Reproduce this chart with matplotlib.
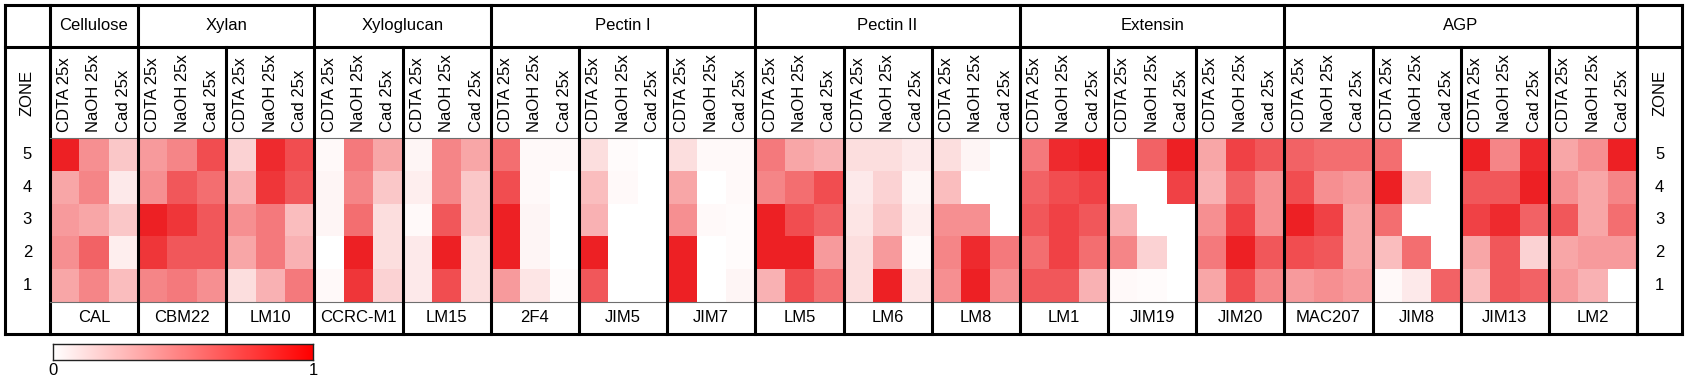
#!/usr/bin/env python3
"""Antibody labelling heatmap: zones 5-1 x (antibody, extraction)."""

import matplotlib.pyplot as plt
import numpy as np
from matplotlib.colors import LinearSegmentedColormap

plt.rcParams["font.family"] = ["Liberation Sans", "DejaVu Sans"]

zones = [5, 4, 3, 2, 1]
extractions = ["CDTA 25x", "NaOH 25x", "Cad 25x"]
groups = ["Cellulose", "Xylan", "Xyloglucan", "Pectin I", "Pectin II",
          "Extensin", "AGP"]
group_antibodies = [["CAL"], ["CBM22", "LM10"], ["CCRC-M1", "LM15"],
                    ["2F4", "JIM5", "JIM7"], ["LM5", "LM6", "LM8"],
                    ["LM1", "JIM19", "JIM20"],
                    ["MAC207", "JIM8", "JIM13", "LM2"]]

# rows = zone 5..1, columns = CDTA, NaOH, Cad (relative signal 0-1)
CAL = [[1.00, 0.50, 0.25], [0.40, 0.55, 0.10], [0.45, 0.40, 0.25],
       [0.50, 0.70, 0.08], [0.40, 0.55, 0.30]]
CBM22 = [[0.45, 0.55, 0.80], [0.50, 0.75, 0.65], [1.00, 0.90, 0.75],
         [0.90, 0.75, 0.75], [0.55, 0.60, 0.50]]
LM10 = [[0.20, 0.95, 0.80], [0.35, 0.90, 0.75], [0.50, 0.60, 0.30],
        [0.40, 0.60, 0.35], [0.15, 0.35, 0.60]]
CCRC_M1 = [[0.03, 0.60, 0.40], [0.05, 0.55, 0.25], [0.05, 0.65, 0.15],
           [0.00, 1.00, 0.15], [0.03, 0.90, 0.20]]
LM15 = [[0.05, 0.55, 0.40], [0.08, 0.55, 0.25], [0.03, 0.75, 0.25],
        [0.10, 1.00, 0.15], [0.10, 0.80, 0.15]]
F2F4 = [[0.65, 0.03, 0.03], [0.80, 0.03, 0.00], [1.00, 0.05, 0.00],
        [1.00, 0.05, 0.00], [0.45, 0.12, 0.02]]
JIM5 = [[0.15, 0.02, 0.00], [0.30, 0.03, 0.00], [0.35, 0.00, 0.00],
        [1.00, 0.00, 0.00], [0.75, 0.00, 0.00]]
JIM7 = [[0.15, 0.03, 0.03], [0.40, 0.00, 0.03], [0.50, 0.03, 0.02],
        [1.00, 0.00, 0.02], [1.00, 0.00, 0.05]]
LM5 = [[0.60, 0.40, 0.35], [0.55, 0.65, 0.80], [1.00, 0.80, 0.70],
       [1.00, 1.00, 0.45], [0.35, 0.80, 0.65]]
LM6 = [[0.15, 0.15, 0.10], [0.10, 0.20, 0.05], [0.12, 0.25, 0.08],
       [0.15, 0.45, 0.03], [0.15, 1.00, 0.12]]
LM8 = [[0.15, 0.05, 0.00], [0.30, 0.00, 0.00], [0.50, 0.50, 0.00],
       [0.55, 0.95, 0.60], [0.50, 1.00, 0.50]]
LM1 = [[0.60, 0.95, 1.00], [0.70, 0.80, 0.85], [0.75, 0.85, 0.75],
       [0.65, 0.85, 0.65], [0.75, 0.75, 0.35]]
JIM19 = [[0.00, 0.70, 1.00], [0.00, 0.00, 0.85], [0.35, 0.00, 0.00],
         [0.55, 0.20, 0.00], [0.03, 0.02, 0.00]]
JIM20 = [[0.40, 0.85, 0.75], [0.35, 0.70, 0.50], [0.50, 0.85, 0.50],
         [0.60, 1.00, 0.75], [0.40, 0.80, 0.55]]
MAC207 = [[0.70, 0.65, 0.65], [0.80, 0.50, 0.45], [1.00, 0.85, 0.40],
          [0.80, 0.75, 0.40], [0.45, 0.50, 0.45]]
JIM8 = [[0.65, 0.00, 0.00], [1.00, 0.25, 0.00], [0.65, 0.00, 0.00],
        [0.30, 0.65, 0.00], [0.03, 0.10, 0.70]]
JIM13 = [[1.00, 0.55, 0.95], [0.75, 0.75, 1.00], [0.85, 0.95, 0.70],
         [0.40, 0.75, 0.20], [0.30, 0.75, 0.70]]
LM2 = [[0.40, 0.50, 1.00], [0.50, 0.40, 0.55], [0.75, 0.40, 0.65],
       [0.40, 0.45, 0.45], [0.45, 0.35, 0.00]]

values = {"CAL": CAL, "CBM22": CBM22, "LM10": LM10, "CCRC-M1": CCRC_M1,
          "LM15": LM15, "2F4": F2F4, "JIM5": JIM5, "JIM7": JIM7,
          "LM5": LM5, "LM6": LM6, "LM8": LM8, "LM1": LM1, "JIM19": JIM19,
          "JIM20": JIM20, "MAC207": MAC207, "JIM8": JIM8, "JIM13": JIM13,
          "LM2": LM2}

CELL_CMAP = LinearSegmentedColormap.from_list("cell", ["#ffffff", "#ed2024"])
BAR_CMAP = LinearSegmentedColormap.from_list("bar", ["#ffffff", "#ff0000"])
THICK = 2.2
THIN = 0.8
FS = 12

antibodies = [ab for g in group_antibodies for ab in g]
mat = np.hstack([np.array(values[ab]) for ab in antibodies])
ncol = mat.shape[1]
nx = len(extractions)

# vertical layout (units = one heatmap row), top = 0
y0 = 0.0
y1 = y0 + 1.275          # group header
y2 = y1 + 2.80           # extraction labels
y3 = y2 + len(zones)     # heatmap
y4 = y3 + 0.99           # antibody names
ZW = 1.525               # width of the ZONE columns

W, H = 1687, 381
fig = plt.figure(figsize=(W / 100, H / 100), dpi=100)
ax = fig.add_axes([5 / W, (H - 334) / H, 1677 / W, 329 / H])
ax.set_xlim(-ZW, ncol + ZW)
ax.set_ylim(y4, y0)
ax.axis("off")

ax.pcolormesh(np.arange(ncol + 1), y2 + np.arange(len(zones) + 1), mat,
              cmap=CELL_CMAP, vmin=0, vmax=1)

kw = dict(color="black", lw=THICK, clip_on=False, solid_capstyle="projecting")
# outer frame and full-width horizontals
for y in (y0, y1, y4):
    ax.plot([-ZW, ncol + ZW], [y, y], **kw)
for x in (-ZW, 0, ncol, ncol + ZW):
    ax.plot([x, x], [y0, y4], **kw)
# thin lines around the heatmap block
for y in (y2, y3):
    ax.plot([0, ncol], [y, y], color="#6e6e6e", lw=THIN)

col = 0
for g, abs_ in zip(groups, group_antibodies):
    start = col
    for ab in abs_:
        for j, ex in enumerate(extractions):
            ax.text(col + j + 0.5, y2 - 0.2, ex, rotation=90, ha="center",
                    va="bottom", fontsize=FS)
        ax.text(col + nx / 2, (y3 + y4) / 2, ab, ha="center", va="center",
                fontsize=FS)
        if col > start:
            ax.plot([col, col], [y1, y4], **kw)
        col += nx
    ax.text((start + col) / 2, (y0 + y1) / 2, g, ha="center", va="center",
            fontsize=FS)
    ax.plot([col, col], [y0, y4], **kw)

for xc in (-ZW / 2, ncol + ZW / 2):
    ax.text(xc, (y1 + y2) / 2, "ZONE", rotation=90, ha="center",
            va="center", fontsize=FS)
    for i, z in enumerate(zones):
        ax.text(xc, y2 + i + 0.5, str(z), ha="center", va="center",
                fontsize=FS)

# colour scale
cax = fig.add_axes([53.3 / W, (H - 360) / H, 260 / W, 15.7 / H])
cax.imshow(np.linspace(0, 1, 256)[None, :], cmap=BAR_CMAP, aspect="auto",
           extent=[0, 1, 0, 1])
cax.set_xticks([0, 1])
cax.set_xticklabels(["0", "1"], fontsize=FS)
cax.set_yticks([])
cax.tick_params(length=0, pad=2)
for s in cax.spines.values():
    s.set_linewidth(1.0)
    s.set_color("#222222")

fig.savefig("out.png", dpi=100)
